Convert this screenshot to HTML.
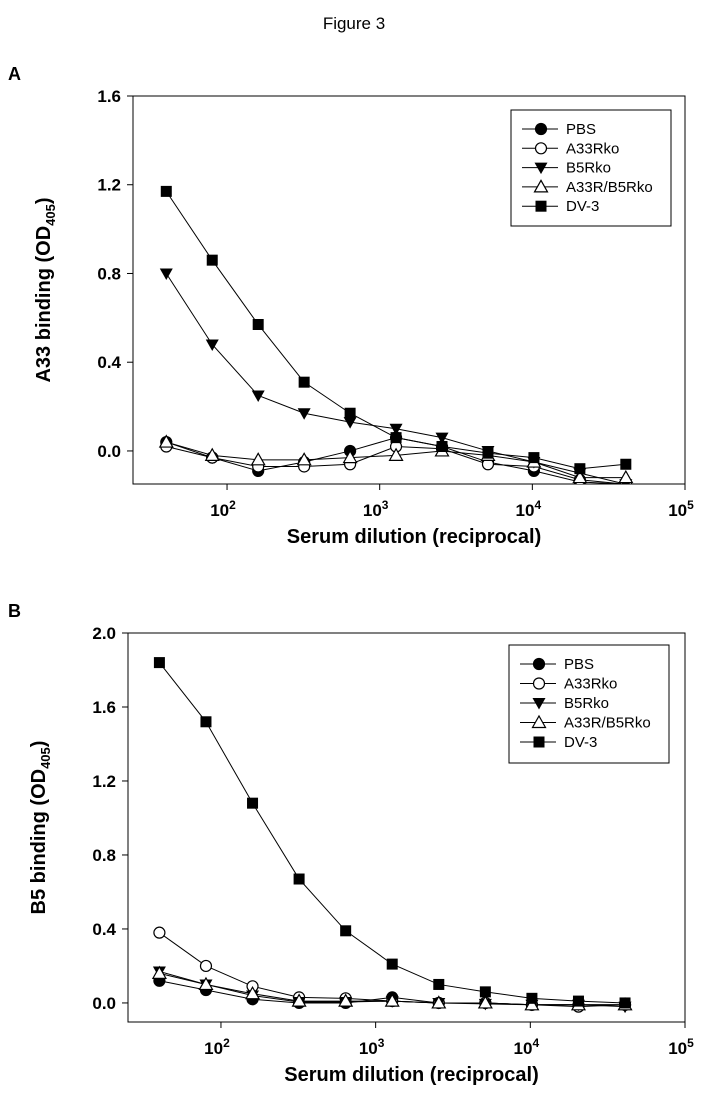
<!DOCTYPE html>
<html><head><meta charset="utf-8"><style>
body{margin:0;background:#fff;}
svg{display:block;font-family:"Liberation Sans",Arial,sans-serif;}
</style></head><body>
<svg id="fig" width="708" height="1103" viewBox="0 0 708 1103">
<text x="354" y="29" text-anchor="middle" font-size="17">Figure 3</text>
</svg>
<script>
const dilutions=[40,80,160,320,640,1280,2560,5120,10240,20480,40960];
const seriesNames=['PBS','A33Rko','B5Rko','A33R/B5Rko','DV-3'];
const markers=['circle-filled','circle-open','tri-down','tri-up-open','square'];
const aPBS=[0.04,-0.03,-0.09,-0.05,0.00,0.06,0.02,-0.05,-0.09,-0.14,-0.15];
const aA33=[0.02,-0.03,-0.07,-0.07,-0.06,0.02,0.01,-0.06,-0.07,-0.13,-0.15];
const aB5=[0.80,0.48,0.25,0.17,0.13,0.10,0.06,0.00,-0.05,-0.10,-0.15];
const aDKO=[0.04,-0.02,-0.04,-0.04,-0.03,-0.02,0.00,-0.02,-0.05,-0.12,-0.12];
const aDV3=[1.17,0.86,0.57,0.31,0.17,0.06,0.02,-0.01,-0.03,-0.08,-0.06];
const bPBS=[0.12,0.07,0.02,0.00,0.00,0.03,0.00,0.00,-0.01,-0.01,-0.01];
const bA33=[0.38,0.20,0.09,0.03,0.025,0.01,0.00,0.00,-0.01,-0.02,-0.01];
const bB5=[0.17,0.10,0.04,0.005,0.005,0.01,0.00,-0.005,-0.01,-0.01,-0.02];
const bDKO=[0.16,0.10,0.05,0.01,0.01,0.01,0.00,0.00,-0.01,-0.01,-0.01];
const bDV3=[1.84,1.52,1.08,0.67,0.39,0.21,0.10,0.06,0.025,0.01,0.00];
const aYTicks=[0.0,0.4,0.8,1.2,1.6];
const bYTicks=[0.0,0.4,0.8,1.2,1.6,2.0];
const xTickExps=[2,3,4,5];

const NS='http://www.w3.org/2000/svg';
const svg=document.getElementById('fig');
function el(tag,attrs,parent){const e=document.createElementNS(NS,tag);for(const k in attrs)e.setAttribute(k,attrs[k]);(parent||svg).appendChild(e);return e;}

function marker(g,type,x,y){
  let m;
  if(type==='circle-filled'||type==='circle-open'){
    m=el('circle',{cx:x,cy:y,r:5.5,fill:type==='circle-filled'?'#000':'#fff',stroke:'#000','stroke-width':1.2},g);
  }else if(type==='tri-down'){
    m=el('polygon',{points:`${x-6.5},${y-5} ${x+6.5},${y-5} ${x},${y+6.5}`,fill:'#000'},g);
  }else if(type==='tri-up-open'){
    m=el('polygon',{points:`${x-6.5},${y+5} ${x+6.5},${y+5} ${x},${y-6.5}`,fill:'#fff',stroke:'#000','stroke-width':1.2},g);
  }else{
    m=el('rect',{x:x-5.5,y:y-5.5,width:11,height:11,fill:'#000'},g);
  }
  return m;
}

function chart(cfg){
  const {L,R,T,B,xmin,xmax,ymin,ymax,yTicks,series,id,letter,ytitle,legend}=cfg;
  const X=v=>L+(Math.log10(v)-xmin)/(xmax-xmin)*(R-L);
  const Y=v=>B-(v-ymin)/(ymax-ymin)*(B-T);
  const g=el('g',{});
  
  
  const lt=el('text',{x:8,y:T-16,'font-size':18,'font-weight':'bold'},g);lt.textContent=letter;
  
  
  el('defs',{},g).innerHTML=`<clipPath id="clip${id}"><rect x="${L}" y="${T}" width="${R-L}" height="${B-T}"/></clipPath>`;
  const frame=el('rect',{x:L,y:T,width:R-L,height:B-T,fill:'none',stroke:'#000','stroke-width':1},g);
  
  
  yTicks.forEach(t=>{
    const y=Y(t);
    el('line',{x1:L-6,x2:L,y1:y,y2:y,stroke:'#000'},g);
    const tx=el('text',{x:L-12,y:y+6,'text-anchor':'end','font-size':17,'font-weight':'bold'},g);
    tx.textContent=t.toFixed(1);
    
    
  });
  xTickExps.forEach(e=>{
    const x=X(Math.pow(10,e));
    el('line',{x1:x,x2:x,y1:B,y2:B+6,stroke:'#000'},g);
    const tx=el('text',{x:x-4,y:B+32,'text-anchor':'middle','font-size':17,'font-weight':'bold'},g);
    tx.innerHTML='10<tspan dy="-7" font-size="12">'+e+'</tspan>';
    
    
  });
  const xt=el('text',{x:(L+R)/2+5,y:B+42+17,'text-anchor':'middle','font-size':20,'font-weight':'bold'},g);
  xt.textContent='Serum dilution (reciprocal)';
  
  
  const cy=(T+B)/2;
  const yt=el('text',{x:0,y:0,transform:`translate(${L-83},${cy}) rotate(-90)`,'text-anchor':'middle','font-size':20,'font-weight':'bold'},g);
  yt.innerHTML=ytitle+' binding (OD<tspan dy="5" font-size="13">405</tspan><tspan dy="-5">)</tspan>';
  
  
  const pg=el('g',{'clip-path':`url(#clip${id})`},g);
  series.forEach((vals,i)=>{
    const sg=el('g',{},pg);
    
    
    const pts=vals.map((v,j)=>X(dilutions[j])+','+Y(v)).join(' ');
    el('polyline',{points:pts,fill:'none',stroke:'#000','stroke-width':1},sg);
    vals.forEach((v,j)=>{const m=marker(sg,markers[i],X(dilutions[j]),Y(v));
      
      });
  });
  const lg=el('g',{},g);
  
  
  el('rect',{x:legend.x,y:legend.y,width:160,height:legend.h,fill:'#fff',stroke:'#000'},lg);
  seriesNames.forEach((n,i)=>{
    const y=legend.y+19+i*legend.step;
    const eg=el('g',{},lg);
    
    
    el('line',{x1:legend.x+11,x2:legend.x+47,y1:y,y2:y,stroke:'#000'},eg);
    marker(eg,markers[i],legend.x+30,y);
    const t=el('text',{x:legend.x+55,y:y+5,'font-size':15},eg);t.textContent=n;
  });
}
chart({id:'a',letter:'A',ytitle:'A33',L:133,R:685,T:96,B:484,xmin:1.384,xmax:5,ymin:-0.149,ymax:1.6,yTicks:aYTicks,
  series:[aPBS,aA33,aB5,aDKO,aDV3],legend:{x:511,y:110,h:116,step:19.3}});
chart({id:'b',letter:'B',ytitle:'B5',L:128,R:685,T:633,B:1022,xmin:1.399,xmax:5,ymin:-0.103,ymax:2.0,yTicks:bYTicks,
  series:[bPBS,bA33,bB5,bDKO,bDV3],legend:{x:509,y:645,h:118,step:19.5}});
</script>
</body></html>
